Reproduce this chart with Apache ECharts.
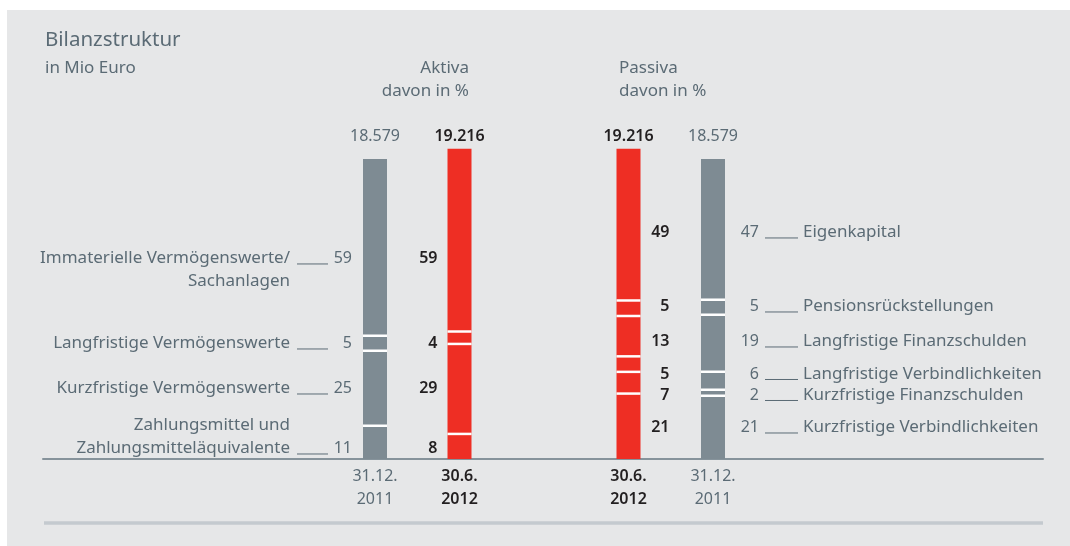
<!DOCTYPE html>
<html>
<head>
<meta charset="utf-8">
<script src="https://cdn.jsdelivr.net/npm/echarts@6/dist/echarts.min.js"></script>
<style>
html, body { margin: 0; padding: 0; background: #fff; }
#chart { width: 1070px; height: 546px; }
</style>
</head>
<body>
<div id="chart"></div>
<script>
// Bilanzstruktur, in Mio Euro
var dateLabels = ['31.12.\n2011', '30.6.\n2012', '', '30.6.\n2012', '31.12.\n2011'];
var total2011 = 18579;
var total2012 = 19216;
var totalLabels = ['18.579', '19.216', '', '19.216', '18.579'];

// Aktiva (von unten nach oben), davon in %
var aktivaNames = ['Zahlungsmittel und\nZahlungsmitteläquivalente', 'Kurzfristige Vermögenswerte', 'Langfristige Vermögenswerte', 'Immaterielle Vermögenswerte/\nSachanlagen'];
var aktiva2011 = [11, 25, 5, 59];
var aktiva2012 = [8, 29, 4, 59];

// Passiva (von unten nach oben), davon in %
var passivaNames = ['Kurzfristige Verbindlichkeiten', 'Kurzfristige Finanzschulden', 'Langfristige Verbindlichkeiten', 'Langfristige Finanzschulden', 'Pensionsrückstellungen', 'Eigenkapital'];
var passiva2011 = [21, 2, 6, 19, 5, 47];
var passiva2012 = [21, 7, 5, 13, 5, 49];

var GREY = '#7e8b93';
var RED = '#ee2e24';
var TXT = '#5b6b75';
var DARK = '#221f20';
var FONT = '"Noto Sans", sans-serif';
var F_TXT = '17px ' + FONT;
var F_NUM = '16px ' + FONT;
var F_BOLD = '600 16px ' + FONT;
var BARW = 24;

// Beschriftung etwas verschieben (px), damit sie nicht kollidiert
var aktivaDy = [6, 0, 0, 11];
var aktivaValueLine = [1, 0, 0, 0];
var passivaDy = [0, 2, -7, -2, -1, 3];

var chart = echarts.init(document.getElementById('chart'));

var series = [];
aktivaNames.forEach(function (name, i) {
    series.push({
        type: 'bar', name: name, stack: 'bilanz', barWidth: BARW,
        xAxisIndex: 0, yAxisIndex: 0, silent: true,
        data: [
            { value: aktiva2011[i] * total2011 / 100, itemStyle: { color: GREY } },
            { value: aktiva2012[i] * total2012 / 100, itemStyle: { color: RED } },
            '-', '-', '-'
        ]
    });
});
passivaNames.forEach(function (name, i) {
    series.push({
        type: 'bar', name: name, stack: 'bilanz', barWidth: BARW,
        xAxisIndex: 0, yAxisIndex: 0, silent: true,
        data: [
            '-', '-', '-',
            { value: passiva2012[i] * total2012 / 100, itemStyle: { color: RED } },
            { value: passiva2011[i] * total2011 / 100, itemStyle: { color: GREY } }
        ]
    });
});

// weisse Trennlinien zwischen den Segmenten
function boundaries(pcts, total, cat) {
    var out = [], acc = 0;
    for (var i = 0; i < pcts.length - 1; i++) {
        acc += pcts[i];
        out.push([cat, acc * total / 100]);
    }
    return out;
}
var sepData = [].concat(
    boundaries(aktiva2011, total2011, 0),
    boundaries(aktiva2012, total2012, 1),
    boundaries(passiva2012, total2012, 3),
    boundaries(passiva2011, total2011, 4)
);
series.push({
    type: 'custom', silent: true, z: 5,
    xAxisIndex: 0, yAxisIndex: 0,
    encode: { x: 0, y: 1 },
    data: sepData,
    renderItem: function (params, api) {
        var p = api.coord([api.value(0), api.value(1)]);
        return {
            type: 'rect',
            shape: { x: p[0] - BARW / 2, y: p[1] - 1.5, width: BARW, height: 2.5 },
            style: { fill: '#ffffff' }
        };
    }
});

var option = {
    backgroundColor: '#ffffff',
    animation: false,
    grid: [
        { left: 332.75, right: 314.75, top: 136, bottom: 87 },
        { left: 43, right: 27, top: 136, bottom: 87 }
    ],
    xAxis: [{
        gridIndex: 0,
        type: 'category',
        data: dateLabels,
        axisLine: { show: false },
        axisTick: { show: false },
        axisLabel: {
            interval: 0,
            margin: 6,
            formatter: function (v, idx) {
                if (!v) return '';
                var key = (idx === 1 || idx === 3) ? 'b' : 'g';
                return v.split('\n').map(function (s) { return '{' + key + '|' + s + '}'; }).join('\n');
            },
            rich: {
                g: { color: TXT, fontSize: 16, lineHeight: 23, fontFamily: FONT },
                b: { color: DARK, fontSize: 16, lineHeight: 23, fontFamily: FONT, fontWeight: 600 }
            }
        }
    }, {
        gridIndex: 1,
        type: 'category',
        data: [''],
        axisLine: { lineStyle: { color: '#86939b', width: 2 } },
        axisTick: { show: false },
        axisLabel: { show: false }
    }],
    yAxis: [{
        gridIndex: 0, type: 'value', min: 0, max: 20000, show: false
    }, {
        gridIndex: 1, type: 'value', min: 0, max: 20000, show: false
    }],
    series: series
};

chart.setOption(option);

function px(cat, v) {
    return chart.convertToPixel({ seriesIndex: 0 }, [cat, v]);
}

var LH = 23;
var graphics = [
    { type: 'rect', z: -10, silent: true, shape: { x: 7, y: 10, width: 1063, height: 536 }, style: { fill: '#e6e7e8' } },
    { type: 'text', style: { text: 'Bilanzstruktur', x: 45, y: 40, verticalAlign: 'middle', font: '20.5px ' + FONT, fill: TXT } },
    { type: 'text', style: { text: 'in Mio Euro', x: 45, y: 68, verticalAlign: 'middle', font: F_TXT, fill: TXT } },
    { type: 'text', style: { text: 'Aktiva\ndavon in %', x: 469, y: 80, align: 'right', verticalAlign: 'middle', lineHeight: LH, font: F_TXT, fill: TXT } },
    { type: 'text', style: { text: 'Passiva\ndavon in %', x: 619, y: 80, align: 'left', verticalAlign: 'middle', lineHeight: LH, font: F_TXT, fill: TXT } },
    { type: 'line', silent: true, shape: { x1: 44, y1: 523, x2: 1043, y2: 523 }, style: { stroke: '#c4cacf', lineWidth: 3.5 } }
];

// Summen ueber den Balken
totalLabels.forEach(function (t, cat) {
    if (!t) return;
    var bold = (cat === 1 || cat === 3);
    graphics.push({
        type: 'text',
        style: {
            text: t, x: px(cat, 0)[0], y: 136, align: 'center', verticalAlign: 'middle',
            font: bold ? F_BOLD : F_NUM, fill: bold ? DARK : TXT
        }
    });
});

function segMid(pcts, total, i) {
    var acc = 0;
    for (var k = 0; k < i; k++) acc += pcts[k];
    return (acc + pcts[i] / 2) * total / 100;
}

// Aktiva: Name ___ Wert links neben dem grauen Balken
var ax0 = px(0, 0)[0], ax1 = px(1, 0)[0];
aktivaNames.forEach(function (name, i) {
    var row = px(0, segMid(aktiva2011, total2011, i))[1] + aktivaDy[i];
    var n = name.split('\n').length;
    var blockY = row + ((n - 1) / 2 - aktivaValueLine[i]) * LH;
    graphics.push(
        { type: 'text', style: { text: name, x: ax0 - 85, y: blockY, align: 'right', verticalAlign: 'middle', lineHeight: LH, font: F_TXT, fill: TXT } },
        { type: 'line', silent: true, shape: { x1: ax0 - 78, y1: row + 5.5, x2: ax0 - 47, y2: row + 5.5 }, style: { stroke: TXT, lineWidth: 1 } },
        { type: 'text', style: { text: String(aktiva2011[i]), x: ax0 - 23, y: row, align: 'right', verticalAlign: 'middle', font: F_NUM, fill: TXT } },
        { type: 'text', style: { text: String(aktiva2012[i]), x: ax1 - 22, y: row, align: 'right', verticalAlign: 'middle', font: F_BOLD, fill: DARK } }
    );
});

// Passiva: Wert rechts neben den Balken, ___ Name
var px3 = px(3, 0)[0], px4 = px(4, 0)[0];
passivaNames.forEach(function (name, i) {
    var row = px(4, segMid(passiva2011, total2011, i))[1] + passivaDy[i];
    graphics.push(
        { type: 'text', style: { text: String(passiva2012[i]), x: px3 + 41, y: row, align: 'right', verticalAlign: 'middle', font: F_BOLD, fill: DARK } },
        { type: 'text', style: { text: String(passiva2011[i]), x: px4 + 46, y: row, align: 'right', verticalAlign: 'middle', font: F_NUM, fill: TXT } },
        { type: 'line', silent: true, shape: { x1: px4 + 52, y1: row + 5.5, x2: px4 + 85, y2: row + 5.5 }, style: { stroke: TXT, lineWidth: 1 } },
        { type: 'text', style: { text: name, x: px4 + 90, y: row, align: 'left', verticalAlign: 'middle', font: F_TXT, fill: TXT } }
    );
});

chart.setOption({ graphic: graphics });
</script>
</body>
</html>
